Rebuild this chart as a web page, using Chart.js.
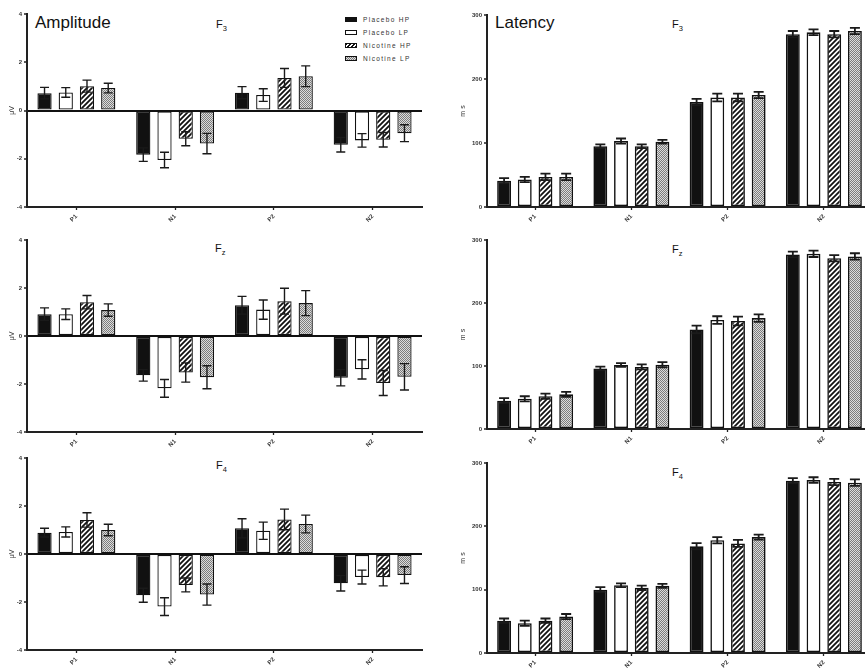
<!DOCTYPE html>
<html>
<head>
<meta charset="utf-8">
<script src="https://cdn.jsdelivr.net/npm/chart.js@4.4.1/dist/chart.umd.min.js"></script>
<style>
  html, body { margin: 0; padding: 0; background: #fff; overflow: hidden; width: 865px; height: 668px; }
  canvas { position: absolute; }
  .title { position: absolute; font-family: 'Liberation Sans', Arial, sans-serif; color: #111; line-height: 1; white-space: nowrap; }
  .big { font-size: 17px; }
  .elec { font-size: 11px; }
  .elec sub { font-size: 7.5px; vertical-align: -3px; line-height: 0; }
  .legend { position: absolute; left: 345px; top: 13px; font-family: 'Liberation Sans', Arial, sans-serif; }
  .legend div { height: 13px; display: flex; align-items: center; font-size: 6.5px; letter-spacing: 1.3px; color: #333; }
  .legend span.box { display: inline-block; width: 10px; height: 3px; border: 1px solid #111; margin-right: 6px; }
</style>
</head>
<body>

<div class="title big" style="left:35px; top:14px;">Amplitude</div>
<div class="title big" style="left:495px; top:14px;">Latency</div>
<div class="title elec" style="left:216px; top:19px;">F<sub>3</sub></div>
<div class="title elec" style="left:672px; top:19px;">F<sub>3</sub></div>
<div class="title elec" style="left:215px; top:243px;">F<sub>z</sub></div>
<div class="title elec" style="left:672px; top:244px;">F<sub>z</sub></div>
<div class="title elec" style="left:216px; top:460px;">F<sub>4</sub></div>
<div class="title elec" style="left:672px; top:467px;">F<sub>4</sub></div>

<div class="legend" id="legend"></div>

<script>
const categories = ['P1', 'N1', 'P2', 'N2'];
const seriesNames = ['Placebo HP', 'Placebo LP', 'Nicotine HP', 'Nicotine LP'];
const ampTicks = [-4, -2, 0, 2, 4];
const latTicks = [0, 100, 200, 300];

// rows follow seriesNames, columns follow categories
const ampF3 = [[0.72, -1.83, 0.74, -1.42], [0.75, -2.05, 0.64, -1.24], [1.01, -1.17, 1.35, -1.21], [0.93, -1.37, 1.42, -0.94]];
const ampF3Err = [[0.24, 0.28, 0.25, 0.30], [0.20, 0.32, 0.26, 0.28], [0.25, 0.29, 0.39, 0.30], [0.20, 0.42, 0.43, 0.35]];
const ampFz = [[0.91, -1.64, 1.28, -1.74], [0.91, -2.18, 1.10, -1.39], [1.41, -1.52, 1.45, -1.96], [1.08, -1.72, 1.37, -1.70]];
const ampFzErr = [[0.26, 0.24, 0.37, 0.34], [0.22, 0.37, 0.40, 0.40], [0.28, 0.40, 0.54, 0.52], [0.26, 0.48, 0.52, 0.55]];
const ampF4 = [[0.89, -1.72, 1.07, -1.22], [0.92, -2.19, 0.97, -0.96], [1.42, -1.29, 1.44, -0.97], [1.00, -1.69, 1.25, -0.88]];
const ampF4Err = [[0.18, 0.29, 0.40, 0.32], [0.21, 0.37, 0.36, 0.29], [0.30, 0.29, 0.43, 0.36], [0.24, 0.44, 0.37, 0.35]];

const latF3 = [[41, 95, 164, 270], [43, 103, 171, 273], [47, 95, 171, 270], [47, 102, 175, 275]];
const latF3Err = [[4, 3, 5, 5], [4, 4, 6, 4.5], [5, 3, 6, 5], [5, 3, 5, 5]];
const latFz = [[45, 96, 158, 277], [48, 101.5, 173, 278], [52, 98.5, 171.5, 271], [55, 102, 176, 274]];
const latFzErr = [[4, 3, 6, 4.5], [4, 3, 6, 5], [4, 4, 7, 5], [4, 4, 6, 5]];
const latF4 = [[51, 100, 168.5, 272], [47, 107, 178, 273], [51, 103, 173, 270], [57.6, 106, 183, 269]];
const latF4Err = [[3.5, 4, 5, 4], [4, 3, 5, 4.5], [3.5, 3.5, 5.5, 5], [4, 3, 4, 5]];

const FONT = "'Liberation Sans', Arial, sans-serif";
const INK = '#111';

function hatchPattern() {
  const c = document.createElement('canvas');
  c.width = c.height = 5;
  const g = c.getContext('2d');
  g.fillStyle = '#fff';
  g.fillRect(0, 0, 5, 5);
  g.strokeStyle = INK;
  g.lineWidth = 1.8;
  g.beginPath();
  g.moveTo(-1, 6); g.lineTo(6, -1);
  g.moveTo(-1, 1); g.lineTo(1, -1);
  g.moveTo(4, 6); g.lineTo(6, 4);
  g.stroke();
  return g.createPattern(c, 'repeat');
}

function grayPattern() {
  const c = document.createElement('canvas');
  c.width = c.height = 2;
  const g = c.getContext('2d');
  g.fillStyle = '#dcdcdc';
  g.fillRect(0, 0, 2, 2);
  g.fillStyle = '#7c7c7c';
  g.fillRect(0, 0, 1, 1);
  g.fillRect(1, 1, 1, 1);
  return g.createPattern(c, 'repeat');
}

const fills = [INK, '#fff', hatchPattern(), grayPattern()];

// legend built from the series names
const legendSwatches = [
  'background:#111',
  'background:#fff',
  'background:repeating-linear-gradient(135deg,#111 0 1.3px,#fff 1.3px 2.6px)',
  'background:repeating-conic-gradient(#7c7c7c 0 25%,#dcdcdc 0 50%) 0 0/2px 2px',
];
document.getElementById('legend').innerHTML = seriesNames
  .map((name, i) => `<div><span class="box" style="${legendSwatches[i]}"></span>${name}</div>`)
  .join('');

function errorBars(cap, width) {
  return {
    id: 'errorBars',
    afterDatasetsDraw(chart) {
      const ctx = chart.ctx;
      const yScale = chart.scales.y;
      ctx.save();
      ctx.strokeStyle = '#1a1a1a';
      ctx.lineWidth = width;
      chart.data.datasets.forEach((ds, i) => {
        chart.getDatasetMeta(i).data.forEach((bar, j) => {
          const v = ds.data[j];
          const e = ds.errors[j];
          const y1 = yScale.getPixelForValue(v - e);
          const y2 = yScale.getPixelForValue(v + e);
          ctx.beginPath();
          ctx.moveTo(bar.x, y1); ctx.lineTo(bar.x, y2);
          ctx.moveTo(bar.x - cap, y1); ctx.lineTo(bar.x + cap, y1);
          ctx.moveTo(bar.x - cap, y2); ctx.lineTo(bar.x + cap, y2);
          ctx.stroke();
        });
      });
      ctx.restore();
    },
  };
}

const panels = [
  { values: ampF3, errors: ampF3Err, ticks: ampTicks, unit: 'μV', left: 0, areaTop: 14, areaH: 193, side: 'L' },
  { values: ampFz, errors: ampFzErr, ticks: ampTicks, unit: 'μV', left: 0, areaTop: 240, areaH: 192, side: 'L' },
  { values: ampF4, errors: ampF4Err, ticks: ampTicks, unit: 'μV', left: 0, areaTop: 458, areaH: 192, side: 'L' },
  { values: latF3, errors: latF3Err, ticks: latTicks, unit: 'm s', left: 440, areaTop: 15, areaH: 192, side: 'R' },
  { values: latFz, errors: latFzErr, ticks: latTicks, unit: 'm s', left: 440, areaTop: 240, areaH: 189, side: 'R' },
  { values: latF4, errors: latF4Err, ticks: latTicks, unit: 'm s', left: 440, areaTop: 463, areaH: 190, side: 'R' },
];

panels.forEach((p) => {
  const isLeft = p.side === 'L';
  const padTop = 14;
  const bottomBand = 18;
  const width = 440;
  const height = padTop + p.areaH + bottomBand;
  const yWidth = isLeft ? 27 : 47;
  const padRight = isLeft ? 18 : 8;

  const canvas = document.createElement('canvas');
  canvas.width = width;
  canvas.height = height;
  canvas.style.left = p.left + 'px';
  canvas.style.top = (p.areaTop - padTop) + 'px';
  document.body.appendChild(canvas);

  new Chart(canvas, {
    type: 'bar',
    data: {
      labels: categories,
      datasets: seriesNames.map((name, i) => ({
        label: name,
        data: p.values[i],
        errors: p.errors[i],
        backgroundColor: fills[i],
        borderColor: INK,
        borderWidth: isLeft ? 1.3 : 1.6,
        borderSkipped: false,
        barPercentage: 0.67,
        categoryPercentage: 0.86,
      })),
    },
    options: {
      responsive: false,
      animation: false,
      layout: { padding: { top: padTop, right: padRight, left: 0, bottom: 0 } },
      plugins: { legend: { display: false }, tooltip: { enabled: false } },
      scales: {
        x: {
          grid: { offset: false, drawOnChartArea: false, tickLength: 3, tickColor: '#222', tickWidth: 1.3 },
          border: { color: '#222', width: 2 },
          ticks: { minRotation: 45, maxRotation: 45, padding: 3, color: '#333', font: { size: 6, family: FONT, weight: 'bold' } },
          afterFit: (scale) => { scale.height = bottomBand; },
        },
        y: {
          min: p.ticks[0],
          max: p.ticks[p.ticks.length - 1],
          ticks: { stepSize: p.ticks[1] - p.ticks[0], padding: 2, color: '#333', font: { size: 6, family: FONT, weight: 'bold' } },
          grid: {
            drawOnChartArea: isLeft,
            color: (c) => (c.tick && c.tick.value === 0 ? INK : 'transparent'),
            lineWidth: 2,
            tickColor: '#222',
            tickLength: 3,
            tickWidth: 1.3,
          },
          border: { color: '#222', width: 2 },
          title: {
            display: true,
            text: p.unit,
            color: '#333',
            font: { size: 7, family: FONT },
            padding: { top: isLeft ? 8 : 19, bottom: 0 },
          },
          afterFit: (scale) => { scale.width = yWidth; },
        },
      },
    },
    plugins: [errorBars(isLeft ? 4.5 : 5, isLeft ? 1.4 : 1.8)],
  });
});
</script>
</body>
</html>
